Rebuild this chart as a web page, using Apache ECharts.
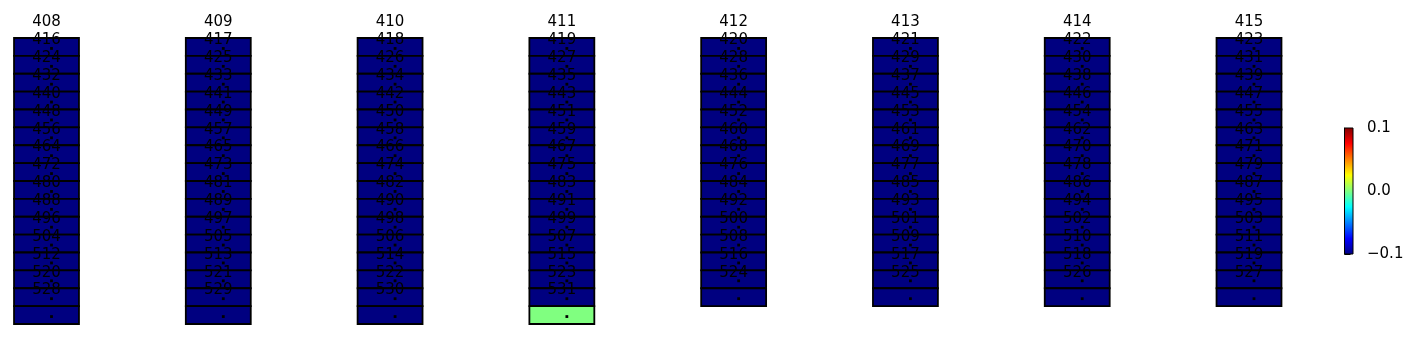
<!DOCTYPE html>
<html><head><meta charset="utf-8">
<script src="https://cdn.jsdelivr.net/npm/echarts@6/dist/echarts.min.js"></script>
<style>html,body{margin:0;padding:0;background:#fff}#c{width:1422px;height:339px}</style>
</head><body><div id="c"></div>
<script>
// Cell labels per column (first label is drawn above the column)
const cellLabels = [
  [408,416,424,432,440,448,456,464,472,480,488,496,504,512,520,528],
  [409,417,425,433,441,449,457,465,473,481,489,497,505,513,521,529],
  [410,418,426,434,442,450,458,466,474,482,490,498,506,514,522,530],
  [411,419,427,435,443,451,459,467,475,483,491,499,507,515,523,531],
  [412,420,428,436,444,452,460,468,476,484,492,500,508,516,524],
  [413,421,429,437,445,453,461,469,477,485,493,501,509,517,525],
  [414,422,430,438,446,454,462,470,478,486,494,502,510,518,526],
  [415,423,431,439,447,455,463,471,479,487,495,503,511,519,527]
];
// Cell values (colour)
const col408 = [-0.1,-0.1,-0.1,-0.1,-0.1,-0.1,-0.1,-0.1,-0.1,-0.1,-0.1,-0.1,-0.1,-0.1,-0.1,-0.1];
const col409 = [-0.1,-0.1,-0.1,-0.1,-0.1,-0.1,-0.1,-0.1,-0.1,-0.1,-0.1,-0.1,-0.1,-0.1,-0.1,-0.1];
const col410 = [-0.1,-0.1,-0.1,-0.1,-0.1,-0.1,-0.1,-0.1,-0.1,-0.1,-0.1,-0.1,-0.1,-0.1,-0.1,-0.1];
const col411 = [-0.1,-0.1,-0.1,-0.1,-0.1,-0.1,-0.1,-0.1,-0.1,-0.1,-0.1,-0.1,-0.1,-0.1,-0.1,0.0];
const col412 = [-0.1,-0.1,-0.1,-0.1,-0.1,-0.1,-0.1,-0.1,-0.1,-0.1,-0.1,-0.1,-0.1,-0.1,-0.1];
const col413 = [-0.1,-0.1,-0.1,-0.1,-0.1,-0.1,-0.1,-0.1,-0.1,-0.1,-0.1,-0.1,-0.1,-0.1,-0.1];
const col414 = [-0.1,-0.1,-0.1,-0.1,-0.1,-0.1,-0.1,-0.1,-0.1,-0.1,-0.1,-0.1,-0.1,-0.1,-0.1];
const col415 = [-0.1,-0.1,-0.1,-0.1,-0.1,-0.1,-0.1,-0.1,-0.1,-0.1,-0.1,-0.1,-0.1,-0.1,-0.1];
const cellValues = [col408, col409, col410, col411, col412, col413, col414, col415];
// Colour scale
const colorMin = -0.1, colorMax = 0.1, colorInterval = 0.1;
const jet = ['#000080','#0000ff','#0080ff','#00ffff','#80ff80','#ffff00','#ff8000','#ff0000','#800000'];

const cells = [];
cellLabels.forEach((labels, c) => labels.forEach((lab, r) => cells.push([c, r, cellValues[c][r], lab])));

const FONT_SIZE = 15;
const FONT = FONT_SIZE + 'px "DejaVu Sans"';
const CELL_W = 0.378;
const LABEL_SHIFT = -0.87;

const chart = echarts.init(document.getElementById('c'), null, {renderer: 'canvas'});
const option = {
  animation: false,
  grid: [
    {left: 3.55, top: 2.25, width: 1288.4, height: 321.75},
    {left: 1344.5, top: 128, width: 8.5, height: 126}
  ],
  xAxis: [
    {type: 'value', gridIndex: 0, min: -0.25, max: 7.25, show: false},
    {type: 'value', gridIndex: 1, min: 0, max: 1, show: false}
  ],
  yAxis: [
    {type: 'value', gridIndex: 0, min: -2, max: 16, inverse: true, show: false},
    {type: 'value', gridIndex: 1, min: colorMin, max: colorMax, interval: colorInterval, position: 'right',
     axisLine: {show: true, lineStyle: {color: '#000', width: 1}},
     axisTick: {show: true, inside: false, length: 6, lineStyle: {color: '#000', width: 1}},
     splitLine: {show: false},
     axisLabel: {margin: 14, color: '#000', fontSize: FONT_SIZE, fontFamily: 'DejaVu Sans',
       formatter: v => Math.abs(v) < 1e-9 ? '0.0' : v.toFixed(1).replace('-', '\u2212')}}
  ],
  visualMap: {show: false, type: 'continuous', min: colorMin, max: colorMax, dimension: 2, seriesIndex: 0,
              inRange: {color: jet}},
  series: [
    {
      type: 'custom', xAxisIndex: 0, yAxisIndex: 0, data: cells, clip: false,
      encode: {x: 0, y: 1},
      renderItem: function (params, api) {
        const c = api.value(0), r = api.value(1);
        const tl = api.coord([c - CELL_W / 2, r]);
        const br = api.coord([c + CELL_W / 2, r + 1]);
        const ctr = api.coord([c, r + 0.5]);
        const lp = api.coord([c, r + LABEL_SHIFT]);
        const lab = cells[params.dataIndex][3];
        return {
          type: 'group',
          children: [
            {type: 'rect', shape: {x: tl[0], y: tl[1], width: br[0] - tl[0], height: br[1] - tl[1]},
             style: {fill: api.visual('color'), stroke: '#000', lineWidth: 1.8}},
            {type: 'text', z2: 5, style: {text: String(lab), x: lp[0], y: lp[1], align: 'center', verticalAlign: 'middle',
             font: FONT, fill: '#000'}},
            {type: 'rect', z2: 6, shape: {x: ctr[0] + 5 - 1.4, y: ctr[1] + 1.5 - 1.4, width: 2.8, height: 2.8},
             style: {fill: '#000'}}
          ]
        };
      }
    },
    {
      type: 'custom', xAxisIndex: 1, yAxisIndex: 1, data: [[0, colorMin]], clip: false,
      renderItem: function (params, api) {
        const p0 = api.coord([0, colorMax]);
        const p1 = api.coord([1, colorMin]);
        const stops = jet.map((col, i) => ({offset: i / (jet.length - 1), color: col}));
        return {type: 'rect', shape: {x: p0[0], y: p0[1], width: p1[0] - p0[0], height: p1[1] - p0[1]},
          style: {fill: new echarts.graphic.LinearGradient(0, 1, 0, 0, stops), stroke: '#000', lineWidth: 1}};
      }
    }
  ]
};
chart.setOption(option);
</script></body></html>
